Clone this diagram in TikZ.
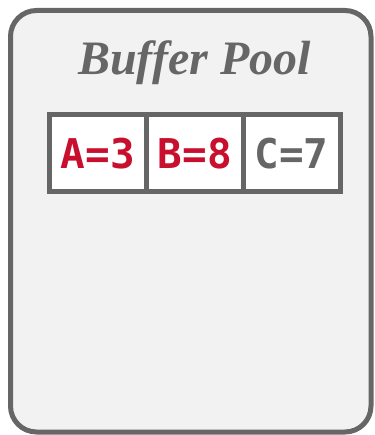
\documentclass[tikz,border=0pt]{standalone}
\usepackage{fontspec}
\setmainfont{Liberation Serif}
\newfontfamily\cellfont{DejaVu Sans Mono}
\definecolor{framegray}{HTML}{666666}
\definecolor{poolfill}{HTML}{F2F2F2}
\definecolor{dirtyred}{HTML}{C8102E}
\tikzset{
  pool/.style={draw=framegray, line width=5pt, fill=poolfill, rounded corners=26pt},
  cell/.style={draw=framegray, line width=5pt, fill=white, minimum width=97pt, minimum height=77pt, inner sep=0pt, outer sep=0pt, anchor=north west,
    font=\cellfont\bfseries\fontsize{41}{41}\selectfont},
  title/.style={text=framegray, font=\bfseries\itshape\fontsize{48}{48}\selectfont, anchor=base, inner sep=0pt}
}
\begin{document}
\begin{tikzpicture}[x=1pt,y=-1pt]
\useasboundingbox (0,0) rectangle (374,435);
\draw[pool] (10.5,10.5) rectangle (371,432);
\node[title] (t) at (194.5,75) {Buffer Pool};
\node[cell, text=dirtyred] (a) at (49.5,115) {A=3};
\node[cell, text=dirtyred] (b) at (146.5,115) {B=8};
\node[cell, text=framegray] (c) at (243,115) {C=7};
\end{tikzpicture}
\end{document}
